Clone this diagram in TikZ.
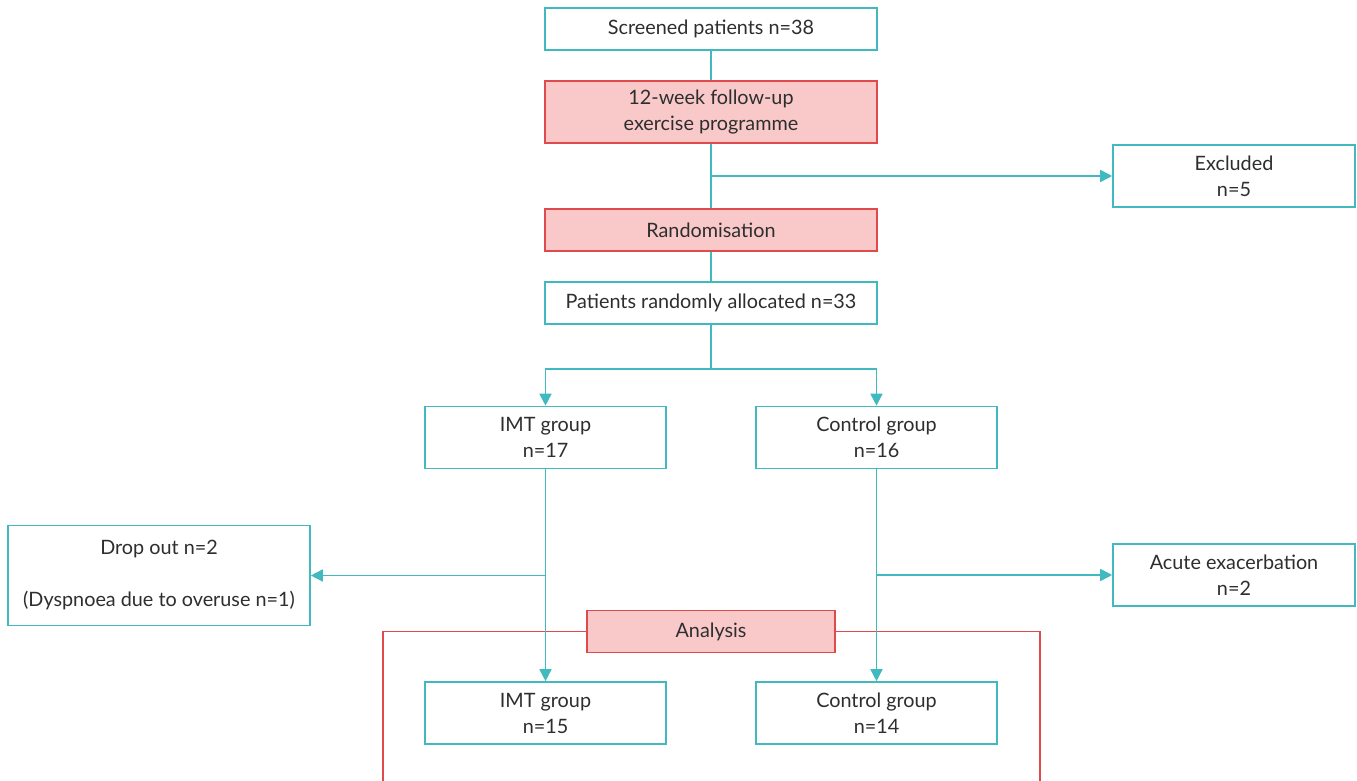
\documentclass[tikz,border=0pt]{standalone}
\usepackage{fontspec}
\setmainfont{Lato}
\usetikzlibrary{arrows.meta, positioning}

\definecolor{teal1}{HTML}{40B9C1}
\definecolor{red1}{HTML}{E04A4C}
\definecolor{pink1}{HTML}{F9C9CA}
\definecolor{text1}{HTML}{2E2E2E}

\tikzset{
  box/.style = {draw=teal1, line width=0.8pt, fill=white, text=text1,
    minimum width=166pt, minimum height=21pt, inner sep=0pt, align=center,
    font=\fontsize{9.9pt}{13pt}\selectfont},
  grpbox/.style = {box, minimum width=120.5pt, minimum height=31pt},
  sidebox/.style = {box, minimum width=121pt, minimum height=31pt},
  redbox/.style = {box, draw=red1, fill=pink1},
  link/.style = {draw=teal1, line width=0.8pt},
  arr/.style = {link, -{Triangle[length=6pt, width=6pt]}},
  bracket/.style = {draw=red1, line width=0.8pt}
}

\begin{document}
\begin{tikzpicture} [node distance = 2cm, on grid]
\useasboundingbox (0,0) rectangle (678.5pt,-390.5pt);

\node (screen) [box] at (355.5pt,-14.5pt) {Screened patients n=38};
\node (follow) [redbox, minimum height=31pt, below = 41.5pt of screen] {12-week follow-up\\exercise programme};
\node (rand) [redbox, below = 59pt of follow] {Randomisation};
\node (alloc) [box, below = 36.5pt of rand] {Patients randomly allocated n=33};
\node (excl) [sidebox, below right = 32pt and 261.5pt of follow] {Excluded\\n=5};

\node (imt) [grpbox, below left = 67.25pt and 82.75pt of alloc] {IMT group\\n=17};
\node (ctrl) [grpbox, right = 165.5pt of imt] {Control group\\n=16};
\node (drop) [box, minimum width=151pt, minimum height=50pt, below left = 69pt and 193.25pt of imt]
  {Drop out n=2\\[13pt](Dyspnoea due to overuse n=1)};
\node (acute) [sidebox, below right = 68.75pt and 178.75pt of ctrl] {Acute exacerbation\\n=2};

\node (imtend) [grpbox, below = 137.75pt of imt] {IMT group\\n=15};
\node (ctrlend) [grpbox, right = 165.5pt of imtend] {Control group\\n=14};

\coordinate (split) at ([yshift=-22pt]alloc.south);
\coordinate (leftfoot) at (191.5pt,-391pt);
\coordinate (rightfoot) at (520pt,-391pt);

% red analysis bracket
\node (analysis) [redbox, minimum width=124pt, below = 164.25pt of alloc] {Analysis};
\draw [bracket] (analysis.west) -| (leftfoot);
\draw [bracket] (analysis.east) -| (rightfoot);

\path [link]
    (screen) -- (follow)
    (follow) -- (rand)
    (rand) -- (alloc)
    (alloc) -- (split);
\draw [arr] (follow |- excl) -- (excl);
\draw [arr] (split) -| (imt);
\draw [arr] (split) -| (ctrl);
\draw [arr] (imt) -- (imtend);
\draw [arr] (ctrl) -- (ctrlend);
\draw [arr] (imt |- drop) -- (drop);
\draw [arr] (ctrl |- acute) -- (acute);

\end{tikzpicture}
\end{document}
